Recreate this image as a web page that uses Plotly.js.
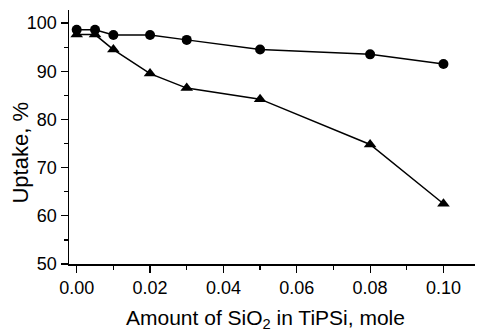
<!DOCTYPE html>
<html><head><meta charset="utf-8">
<script src="https://cdn.plot.ly/plotly-3.0.1.min.js"></script>
<style>html,body{margin:0;padding:0;background:#fff}#chart{width:480px;height:336px}</style>
</head><body><div id="chart"></div>
<script>
const xVals = [0, 0.005, 0.01, 0.02, 0.03, 0.05, 0.08, 0.10];
const circleVals = [98.6, 98.6, 97.5, 97.5, 96.5, 94.5, 93.5, 91.5];
const triangleVals = [97.6, 97.6, 94.5, 89.5, 86.5, 84.2, 74.8, 62.5];
const xTickVals = [0, 0.02, 0.04, 0.06, 0.08, 0.10];
const xTickText = ["0.00", "0.02", "0.04", "0.06", "0.08", "0.10"];
const yTickVals = [50, 60, 70, 80, 90, 100];
const xTitle = "Amount of SiO<sub>2</sub> in TiPSi, mole";
const yTitle = "Uptake, %";

const font = {family: "Liberation Sans, Arial, sans-serif", color: "#000"};
const traces = [
  {x: xVals, y: circleVals, mode: "lines+markers", type: "scatter",
   line: {color: "#000", width: 1.5}, marker: {symbol: "circle", size: 10, color: "#000"}},
  {x: xVals, y: triangleVals, mode: "lines+markers", type: "scatter",
   line: {color: "#000", width: 1.5}, marker: {symbol: "triangle-up", size: 11, color: "#000"}}
];
const layout = {
  width: 480, height: 336,
  margin: {l: 69, r: 5, t: 10, b: 72},
  showlegend: false,
  paper_bgcolor: "#fff", plot_bgcolor: "#fff",
  font: Object.assign({size: 18}, font),
  xaxis: {
    range: [-0.0021, 0.1086], showgrid: false, zeroline: false,
    showline: true, linecolor: "#000", linewidth: 1.5,
    ticks: "outside", ticklen: 7, tickwidth: 1.2, tickcolor: "#000",
    tickvals: xTickVals, ticktext: xTickText,
    tickfont: Object.assign({size: 18}, font),
    minor: {dtick: 0.01, tick0: 0, ticks: "outside", ticklen: 4, tickwidth: 1.2, tickcolor: "#000", showgrid: false}
  },
  yaxis: {
    range: [50, 102.7], showgrid: false, zeroline: false,
    showline: true, linecolor: "#000", linewidth: 1.5,
    ticks: "outside", ticklen: 7, tickwidth: 1.2, tickcolor: "#000",
    tickvals: yTickVals,
    tickfont: Object.assign({size: 18}, font),
    minor: {dtick: 5, tick0: 0, ticks: "outside", ticklen: 4, tickwidth: 1.2, tickcolor: "#000", showgrid: false}
  },
  annotations: [
    {text: xTitle, xref: "paper", yref: "paper", x: 0.484, y: -0.215, xanchor: "center", yanchor: "middle",
     showarrow: false, font: Object.assign({size: 21}, font)},
    {text: yTitle, xref: "paper", yref: "paper", x: -0.12, y: 0.44, xanchor: "center", yanchor: "middle",
     textangle: -90, showarrow: false, font: Object.assign({size: 22}, font)}
  ]
};
Plotly.newPlot("chart", traces, layout, {displayModeBar: false, staticPlot: true});
</script></body></html>
